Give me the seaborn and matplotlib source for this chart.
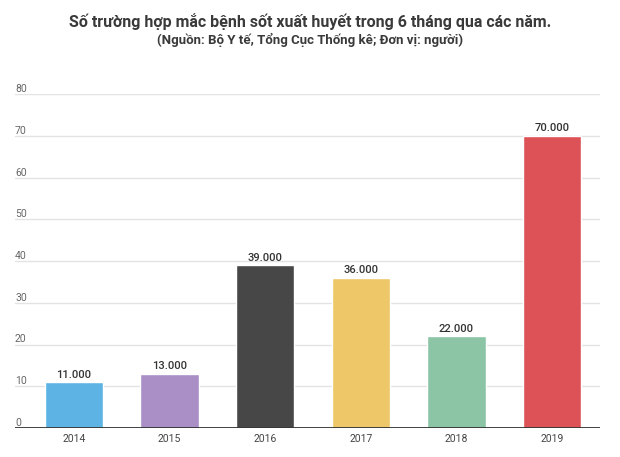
import matplotlib
matplotlib.use("Agg")
import matplotlib.pyplot as plt
import matplotlib.transforms as mtransforms
import seaborn as sns
import pandas as pd

years = ["2014", "2015", "2016", "2017", "2018", "2019"]
values = [11, 13, 39, 36, 22, 70]
value_labels = ["11.000", "13.000", "39.000", "36.000", "22.000", "70.000"]
colors = ["#5DB4E4", "#AA8EC6", "#474747", "#EEC868", "#8CC4A6", "#DC5257"]
yticks = [0, 10, 20, 30, 40, 50, 60, 70, 80]
title = "Số trường hợp mắc bệnh sốt xuất huyết trong 6 tháng qua các năm."
subtitle = "(Nguồn: Bộ Y tế, Tổng Cục Thống kê; Đơn vị: người)"

sns.set_theme(style="white")
plt.rcParams["font.family"] = ["Roboto", "DejaVu Sans"]

df = pd.DataFrame({"year": years, "value": values})

fig = plt.figure(figsize=(6.2, 4.57), dpi=100)
ax = fig.add_axes([15 / 620, 1 - 428 / 457, 585 / 620, (428 - 94) / 457])

sns.barplot(data=df, x="year", y="value", hue="year", palette=colors,
            width=0.61, legend=False, ax=ax, saturation=1, zorder=3)

ax.set_xlim(-0.617, 5.502)
ax.set_ylim(0, 80)

for t in yticks[1:]:
    ax.axhline(t, color="#e3e3e3", lw=1, zorder=1)
ax.axhline(0, color="#333333", lw=1.3, zorder=4)

ax.set_yticks([])
for sp in ax.spines.values():
    sp.set_visible(False)

trans = mtransforms.blended_transform_factory(ax.transAxes, ax.transData)
for t in yticks:
    ax.text(0.0, t, str(t), transform=trans, ha="left", va="bottom",
            fontsize=7.5, color="#666666")
    
for i, (v, lab) in enumerate(zip(values, value_labels)):
    ax.text(i, v + 0.6, lab, ha="center", va="bottom", fontsize=8,
            color="#333333", fontweight="medium")

ax.set_xlabel("")
ax.set_ylabel("")
ax.tick_params(axis="x", length=0, pad=4, labelsize=7.5, labelcolor="#444444")

fig.text(0.5, 1 - 22 / 457, title, ha="center", va="center", fontsize=11.5,
         fontweight="bold", color="#3a3a3a")
fig.text(0.5, 1 - 40 / 457, subtitle, ha="center", va="center", fontsize=9.5,
         fontweight="bold", color="#3a3a3a")

fig.savefig("out.png", dpi=100, facecolor="white")
